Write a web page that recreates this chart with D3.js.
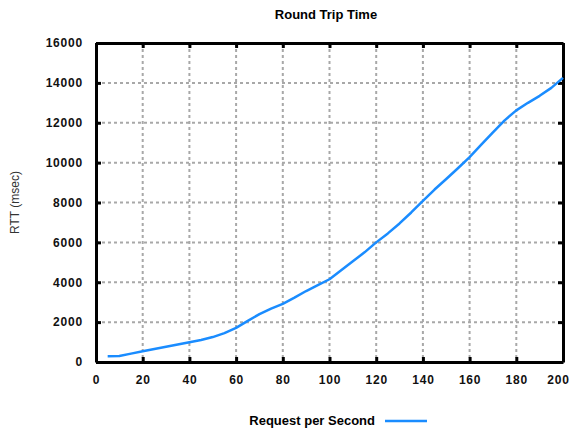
<!DOCTYPE html>
<html>
<head>
<meta charset="utf-8">
<script src="https://cdn.jsdelivr.net/npm/d3@7"></script>
<style>
  body { margin: 0; background: #fff; }
  svg text { font-family: "Liberation Sans", Arial, sans-serif; }
</style>
</head>
<body>
<svg id="chart"></svg>
<script>
var width = 573;
var height = 432;
var margin = { top: 43, right: 10, bottom: 70, left: 96 };

// request rate (req/s) and measured round trip time (msec)
var requests = [5, 10, 15, 20, 25, 30, 35, 40, 45, 50, 55, 60, 65, 70, 75, 80, 85, 90, 95, 100,
    105, 110, 115, 120, 125, 130, 135, 140, 145, 150, 155, 160, 165, 170, 175, 180, 185, 190, 195, 200];
var rtt = [290, 300, 420, 540, 650, 760, 880, 990, 1100, 1250, 1450, 1710, 2060, 2400, 2680, 2920, 3230, 3560, 3850, 4150,
    4600, 5050, 5500, 6000, 6450, 6950, 7500, 8080, 8650, 9180, 9720, 10280, 10900, 11520, 12120, 12620, 13000, 13350, 13750, 14250];
var xTicks = [0, 20, 40, 60, 80, 100, 120, 140, 160, 180, 200];
var yTicks = [0, 2000, 4000, 6000, 8000, 10000, 12000, 14000, 16000];

var plotW = 563 - margin.left;
var plotH = 362 - margin.top;

var svg = d3.select("#chart")
    .attr("width", width)
    .attr("height", height);

var x = d3.scaleLinear().domain([0, 200]).range([0, plotW]);
var y = d3.scaleLinear().domain([0, 16000]).range([plotH, 0]);

var g = svg.append("g")
    .attr("transform", "translate(" + margin.left + "," + margin.top + ")");

// Grid lines
g.selectAll(".vgrid")
    .data(xTicks.slice(1, -1))
    .enter().append("line")
    .attr("x1", function (d) { return x(d); })
    .attr("x2", function (d) { return x(d); })
    .attr("y1", 0)
    .attr("y2", plotH)
    .attr("stroke", "#a8a8a8")
    .attr("stroke-width", 2)
    .attr("stroke-dasharray", "3,3");

g.selectAll(".hgrid")
    .data(yTicks.slice(1, -1))
    .enter().append("line")
    .attr("x1", 0)
    .attr("x2", plotW)
    .attr("y1", function (d) { return y(d); })
    .attr("y2", function (d) { return y(d); })
    .attr("stroke", "#a8a8a8")
    .attr("stroke-width", 2)
    .attr("stroke-dasharray", "3,3");

// Axes with inward ticks
var fmt = d3.format("d");
var xAxis = g.append("g")
    .attr("transform", "translate(0," + plotH + ")")
    .call(d3.axisBottom(x).tickValues(xTicks).tickFormat(fmt).tickSizeInner(-5).tickSizeOuter(0));
var xTop = g.append("g")
    .call(d3.axisTop(x).tickValues(xTicks).tickSizeInner(-5).tickSizeOuter(0).tickFormat(""));
var yAxis = g.append("g")
    .call(d3.axisLeft(y).tickValues(yTicks).tickFormat(fmt).tickSizeInner(-5).tickSizeOuter(0).tickPadding(13));
var yRight = g.append("g")
    .attr("transform", "translate(" + plotW + ",0)")
    .call(d3.axisRight(y).tickValues(yTicks).tickSizeInner(-5).tickSizeOuter(0).tickFormat(""));

[xAxis, xTop, yAxis, yRight].forEach(function (a) {
    a.select(".domain").attr("stroke", "#000").attr("stroke-width", 3);
    a.selectAll(".tick line").attr("stroke", "#000").attr("stroke-width", 3);
    a.selectAll("text")
        .attr("fill", "#111")
        .style("font-size", "12px")
        .style("font-weight", "bold")
        .style("letter-spacing", "0.8px");
});
xAxis.selectAll("text").attr("dy", "0.35em").attr("y", 18)
    .attr("dx", function (d) { return d === 200 ? -5 : 0; });

// Data line
var line = d3.line()
    .x(function (d, i) { return x(requests[i]); })
    .y(function (d) { return y(d); });

g.append("path")
    .datum(rtt)
    .attr("d", line)
    .attr("fill", "none")
    .attr("stroke", "#1a8cff")
    .attr("stroke-width", 2.5)
    .attr("stroke-linejoin", "round");

// Title
svg.append("text")
    .attr("x", 326)
    .attr("y", 19)
    .attr("text-anchor", "middle")
    .style("font-size", "13px")
    .style("font-weight", "bold")
    .text("Round Trip Time");

// Y axis title
svg.append("text")
    .attr("transform", "translate(19," + (margin.top + plotH / 2) + ") rotate(-90)")
    .attr("text-anchor", "middle")
    .attr("fill", "#333")
    .style("font-size", "12px")
    .text("RTT (msec)");

// Legend
svg.append("text")
    .attr("x", 375)
    .attr("y", 425)
    .attr("text-anchor", "end")
    .style("font-size", "13px")
    .style("font-weight", "bold")
    .text("Request per Second");

svg.append("line")
    .attr("x1", 385)
    .attr("x2", 427)
    .attr("y1", 421)
    .attr("y2", 421)
    .attr("stroke", "#1a8cff")
    .attr("stroke-width", 2.5);
</script>
</body>
</html>
